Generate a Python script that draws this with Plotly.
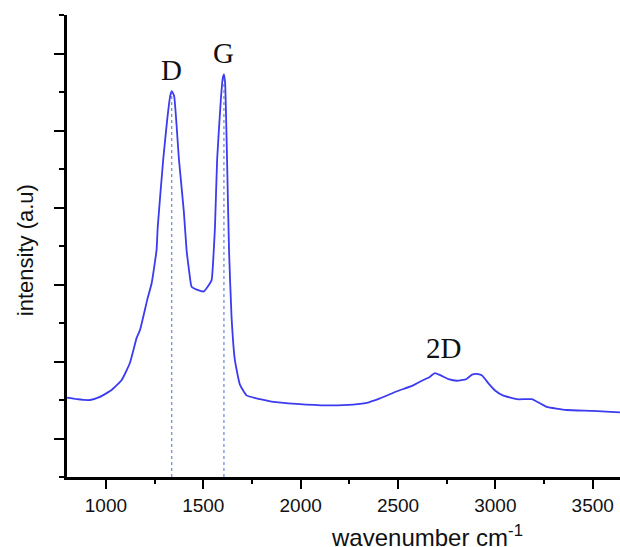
import plotly.graph_objects as go

# Raman spectrum
wavenumber = [800, 850, 918, 969, 1029, 1081, 1123, 1158, 1175, 1212, 1235, 1260, 1266, 1294, 1315,
              1330, 1338, 1350, 1375, 1400, 1414, 1426, 1440, 1470, 1503, 1525, 1543, 1551, 1560,
              1571, 1590, 1600, 1606, 1612, 1622, 1632, 1645, 1662, 1688, 1722, 1791, 1850, 1979,
              2133, 2270, 2350, 2407, 2492, 2578, 2630, 2663, 2689, 2720, 2760, 2802, 2850, 2880,
              2904, 2930, 2970, 3000, 3038, 3110, 3187, 3220, 3264, 3366, 3500, 3640]
intensity = [1.53, 1.51, 1.50, 1.54, 1.63, 1.76, 1.98, 2.31, 2.41, 2.80, 3.02, 3.45, 3.75, 4.62, 5.15,
             5.45, 5.51, 5.45, 4.62, 3.95, 3.45, 3.20, 2.97, 2.93, 2.91, 2.98, 3.06, 3.32, 3.75,
             4.62, 5.40, 5.68, 5.73, 5.62, 4.62, 3.45, 2.58, 2.02, 1.70, 1.56, 1.51, 1.48, 1.45,
             1.43, 1.44, 1.47, 1.52, 1.61, 1.69, 1.76, 1.80, 1.85, 1.82, 1.77, 1.75, 1.77, 1.83,
             1.84, 1.82, 1.70, 1.62, 1.56, 1.51, 1.51, 1.47, 1.41, 1.37, 1.36, 1.34]

peak_x = [1338, 1606]
peak_y = [5.51, 5.73]
peak_names = ["D", "G"]
band2d_x = 2735
band2d_y = 1.94

blue = "#3b3bef"

fig = go.Figure()
fig.add_trace(go.Scatter(x=wavenumber, y=intensity, mode="lines",
                         line=dict(color=blue, width=1.8, shape="spline", smoothing=0.4),
                         showlegend=False, hoverinfo="skip"))
for px, py in zip(peak_x, peak_y):
    fig.add_trace(go.Scatter(x=[px, px], y=[0.5, py], mode="lines",
                             line=dict(color="#4a6cd0", width=1, dash="dot"),
                             showlegend=False, hoverinfo="skip"))

serif = "Liberation Serif, Times New Roman, serif"
for px, py, name in zip(peak_x, peak_y, peak_names):
    fig.add_annotation(x=px, y=py, text=name, showarrow=False, yanchor="bottom", yshift=3,
                       font=dict(family=serif, size=29, color="#111"))
fig.add_annotation(x=band2d_x, y=band2d_y, text="2D", showarrow=False, yanchor="bottom", yshift=0,
                   font=dict(family=serif, size=29, color="#111"))

sans = "Liberation Sans, Arial, sans-serif"
fig.add_annotation(xref="paper", yref="paper", x=0.651, y=-0.128, xanchor="center", yanchor="middle",
                   text="wavenumber cm<sup>-1</sup>", showarrow=False,
                   font=dict(family=sans, size=24, color="#111"))
fig.add_annotation(xref="paper", yref="paper", x=-0.076, y=0.491, xanchor="center", yanchor="middle",
                   text="intensity (a.u)", showarrow=False, textangle=-90,
                   font=dict(family=sans, size=22, color="#111"))

fig.update_layout(
    width=620, height=547,
    margin=dict(l=67, r=0, t=15, b=70),
    paper_bgcolor="white", plot_bgcolor="white",
    font=dict(family=sans, size=19, color="#111"),
    xaxis=dict(range=[800, 3640], tickvals=[1000, 1500, 2000, 2500, 3000, 3500], automargin=False,
               ticks="outside", ticklen=9, tickwidth=2, tickcolor="black",
               showline=True, linecolor="black", linewidth=2.5, showgrid=False, zeroline=False,
               minor=dict(dtick=250, tick0=750, ticks="outside", ticklen=4, tickwidth=2, tickcolor="black"),
               tickfont=dict(size=19)),
    yaxis=dict(range=[0.5, 6.5], tickvals=[1, 2, 3, 4, 5, 6], showticklabels=False, automargin=False,
               ticks="outside", ticklen=10, tickwidth=2, tickcolor="black",
               showline=True, linecolor="black", linewidth=2.5, showgrid=False, zeroline=False,
               minor=dict(dtick=1, tick0=0.5, ticks="outside", ticklen=5, tickwidth=2, tickcolor="black")),
)

fig.write_html("out.html", post_script="document.body.style.margin='0';",
               config={"displayModeBar": False})
